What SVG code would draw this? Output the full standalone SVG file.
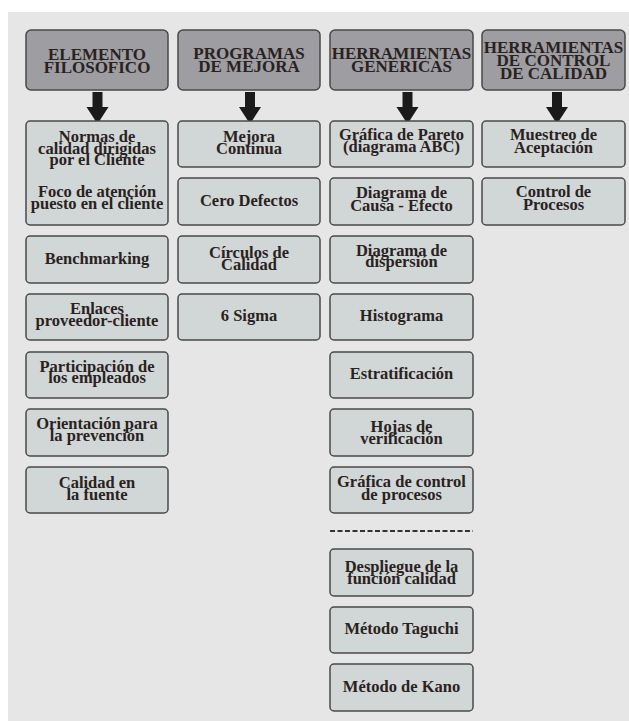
<svg xmlns="http://www.w3.org/2000/svg" width="629" height="721" viewBox="0 0 629 721">
<style>
.bg{fill:#e6e6e6}
.hd rect{fill:#9d9da2;stroke:#4a4a4a;stroke-width:1.5}
.bx rect{fill:#d1d6d7;stroke:#4a4a4a;stroke-width:1.5}
text{font-family:"Liberation Serif","Times New Roman",serif;font-weight:bold;fill:#2a2220;text-anchor:middle}
.hd text{font-size:17px}
.bx text{font-size:16.5px}
.arr{fill:#1a1a1a}
.dash{stroke:#333;stroke-width:2;stroke-dasharray:5 2.5;fill:none}
</style>
<rect class="bg" x="8" y="12" width="621" height="709"/>

<g id="h1" class="hd"><rect x="26" y="30" width="142" height="60" rx="5"/><text x="97" y="60">ELEMENTO</text><text x="97" y="72.5">FILOSÓFICO</text></g>
<g id="h2" class="hd"><rect x="178" y="30" width="142" height="60" rx="5"/><text x="249" y="59">PROGRAMAS</text><text x="249" y="71.5">DE MEJORA</text></g>
<g id="h3" class="hd"><rect x="330" y="30" width="143" height="60" rx="5"/><text x="401.5" y="59">HERRAMIENTAS</text><text x="401.5" y="72">GENÉRICAS</text></g>
<g id="h4" class="hd"><rect x="482" y="30" width="143" height="60" rx="5"/><text x="553.5" y="53">HERRAMIENTAS</text><text x="553.5" y="66">DE CONTROL</text><text x="553.5" y="79">DE CALIDAD</text></g>

<g id="connectors">
<path class="arr" d="M92.5 92 h10 v15 h6 l-11 17 l-11 -17 h6 z"/>
<path class="arr" d="M245 92 h10 v15 h6 l-11 17 l-11 -17 h6 z"/>
<path class="arr" d="M402.5 92 h10 v15 h6 l-11 17 l-11 -17 h6 z"/>
<path class="arr" d="M552 92 h10 v15 h6 l-11 17 l-11 -17 h6 z"/>
<line class="dash" x1="330" y1="531" x2="473" y2="531"/>
</g>

<g id="c1a" class="bx"><rect x="26" y="121" width="142" height="104" rx="4"/><text x="97" y="142">Normas de</text><text x="97" y="153.5">calidad dirigidas</text><text x="97" y="165">por el Cliente</text><text x="97" y="197">Foco de atención</text><text x="97" y="208.5">puesto en el cliente</text></g>
<g id="c1b" class="bx"><rect x="26" y="236" width="142" height="47" rx="4"/><text x="97" y="263.5">Benchmarking</text></g>
<g id="c1c" class="bx"><rect x="26" y="294" width="142" height="46" rx="4"/><text x="97" y="314">Enlaces</text><text x="97" y="325.5">proveedor-cliente</text></g>
<g id="c1d" class="bx"><rect x="26" y="352" width="142" height="46" rx="4"/><text x="97" y="371.5">Participación de</text><text x="97" y="383">los empleados</text></g>
<g id="c1e" class="bx"><rect x="26" y="409" width="142" height="47" rx="4"/><text x="97" y="428.5">Orientación para</text><text x="97" y="441">la prevención</text></g>
<g id="c1f" class="bx"><rect x="26" y="467" width="142" height="46" rx="4"/><text x="97" y="488">Calidad en</text><text x="97" y="500">la fuente</text></g>

<g id="c2a" class="bx"><rect x="178" y="121" width="142" height="46" rx="4"/><text x="249" y="141.5">Mejora</text><text x="249" y="154">Continua</text></g>
<g id="c2b" class="bx"><rect x="178" y="178" width="142" height="47" rx="4"/><text x="249" y="205.5">Cero Defectos</text></g>
<g id="c2c" class="bx"><rect x="178" y="236" width="142" height="47" rx="4"/><text x="249" y="257.5">Círculos de</text><text x="249" y="270">Calidad</text></g>
<g id="c2d" class="bx"><rect x="178" y="294" width="142" height="46" rx="4"/><text x="249" y="320.5">6 Sigma</text></g>

<g id="c3a" class="bx"><rect x="330" y="121" width="143" height="46" rx="4"/><text x="401.5" y="139.5">Gráfica de Pareto</text><text x="401.5" y="152">(diagrama ABC)</text></g>
<g id="c3b" class="bx"><rect x="330" y="178" width="143" height="47" rx="4"/><text x="401.5" y="198">Diagrama de</text><text x="401.5" y="211">Causa - Efecto</text></g>
<g id="c3c" class="bx"><rect x="330" y="236" width="143" height="47" rx="4"/><text x="401.5" y="255.5">Diagrama de</text><text x="401.5" y="267">dispersión</text></g>
<g id="c3d" class="bx"><rect x="330" y="294" width="143" height="46" rx="4"/><text x="401.5" y="320.5">Histograma</text></g>
<g id="c3e" class="bx"><rect x="330" y="352" width="143" height="46" rx="4"/><text x="401.5" y="379">Estratificación</text></g>
<g id="c3f" class="bx"><rect x="330" y="409" width="143" height="47" rx="4"/><text x="401.5" y="431.5">Hojas de</text><text x="401.5" y="444">verificación</text></g>
<g id="c3g" class="bx"><rect x="330" y="467" width="143" height="46" rx="4"/><text x="401.5" y="487">Gráfica de control</text><text x="401.5" y="500">de procesos</text></g>
<g id="c3h" class="bx"><rect x="330" y="549" width="143" height="47" rx="4"/><text x="401.5" y="571.5">Despliegue de la</text><text x="401.5" y="584">función calidad</text></g>
<g id="c3i" class="bx"><rect x="330" y="607" width="143" height="46" rx="4"/><text x="401.5" y="633.5">Método Taguchi</text></g>
<g id="c3j" class="bx"><rect x="330" y="664" width="143" height="47" rx="4"/><text x="401.5" y="691.5">Método de Kano</text></g>

<g id="c4a" class="bx"><rect x="482" y="121" width="143" height="46" rx="4"/><text x="553.5" y="139.5">Muestreo de</text><text x="553.5" y="152.5">Aceptación</text></g>
<g id="c4b" class="bx"><rect x="482" y="178" width="143" height="47" rx="4"/><text x="553.5" y="196.5">Control de</text><text x="553.5" y="210">Procesos</text></g>
</svg>
